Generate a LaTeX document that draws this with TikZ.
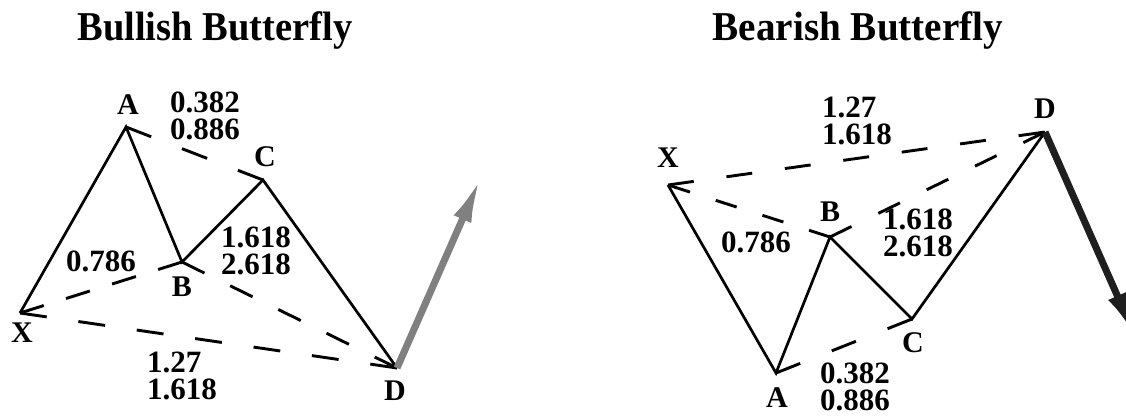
\documentclass[tikz,border=0pt]{standalone}
\usepackage{fontspec}
\usepackage{graphicx}
\setmainfont{Liberation Serif}
\usetikzlibrary{arrows.meta}
\begin{document}
\begin{tikzpicture}[x=1pt,y=-1pt,
  solidleg/.style={line width=2.7pt, line join=miter},
  dashleg/.style n args={2}{line width=2.9pt, dash pattern=on #1pt off #2pt},
  ptlabel/.style={font=\fontsize{30}{30}\selectfont\bfseries, inner sep=0pt},
  ratio/.style={font=\fontsize{31}{27}\selectfont\bfseries, inner sep=0pt, anchor=north west, align=left},
  title/.style={font=\fontsize{41}{41}\selectfont\bfseries, inner sep=0pt, anchor=base}
]
\clip (0,0) rectangle (1126,416);
\fill[white] (0,0) rectangle (1126,416);

% ---------- Bullish ----------
\node[title] (t1) at (215,40) {\scalebox{0.94}[1]{Bullish Butterfly}};
\coordinate (LX) at (20,313);
\coordinate (LA) at (126,127);
\coordinate (LB) at (182,262);
\coordinate (LC) at (263,180);
\coordinate (LD) at (397,368);
\coordinate (LT) at (481,177);

\draw[dashleg={27}{33}] (LA) -- (LC);
\draw[dashleg={25}{23.3}] (LB) -- (LX);
\draw[dashleg={25}{28.7}] (LB) -- (LD);
\draw[dashleg={27}{32}] (LX) -- (LD);
\draw[solidleg] (LX) -- (LA) -- (LB) -- (LC) -- (LD);
\draw[line width=7pt, color=black!50, -{Latex[length=46pt,width=19pt]}] (LD) -- (LT);

\node[ptlabel] (lA) at (128,105) {A};
\node[ptlabel] (lX) at (22,333) {X};
\node[ptlabel] (lB) at (182,287) {B};
\node[ptlabel] (lC) at (265,157) {C};
\node[ptlabel] (lD) at (395,391) {D};

\node[ratio] (l1) at (170,92) {0.382\\0.886};
\node[ratio] (l3) at (66,251) {0.786};
\node[ratio] (l4) at (221,227) {1.618\\2.618};
\node[ratio] (l6) at (147,352) {1.27\\1.618};

% ---------- Bearish ----------
\node[title] (t2) at (858,40) {\scalebox{0.955}[1]{Bearish Butterfly}};
\coordinate (RX) at (668,185);
\coordinate (RA) at (776,373);
\coordinate (RB) at (830,237);
\coordinate (RC) at (912,319);
\coordinate (RD) at (1045,132);
\coordinate (RT) at (1136,338);

\draw[dashleg={26}{34}] (RA) -- (RC);
\draw[dashleg={22}{27}] (RB) -- (RX);
\draw[dashleg={24}{29.8}] (RB) -- (RD);
\draw[dashleg={26}{33}] (RX) -- (RD);
\draw[solidleg] (RX) -- (RA) -- (RB) -- (RC) -- (RD);
\draw[line width=7pt, color=black!88, -{Latex[length=46pt,width=20pt]}] (RD) -- (RT);

\node[ptlabel] (rX) at (668,158) {X};
\node[ptlabel] (rA) at (777,398) {A};
\node[ptlabel] (rB) at (830,212) {B};
\node[ptlabel] (rC) at (913,343) {C};
\node[ptlabel] (rD) at (1045,109) {D};

\node[ratio] (r1) at (822,97) {1.27\\1.618};
\node[ratio] (r3) at (721,232) {0.786};
\node[ratio] (r4) at (883,209) {1.618\\2.618};
\node[ratio] (r6) at (820,363) {0.382\\0.886};
\end{tikzpicture}
\end{document}
